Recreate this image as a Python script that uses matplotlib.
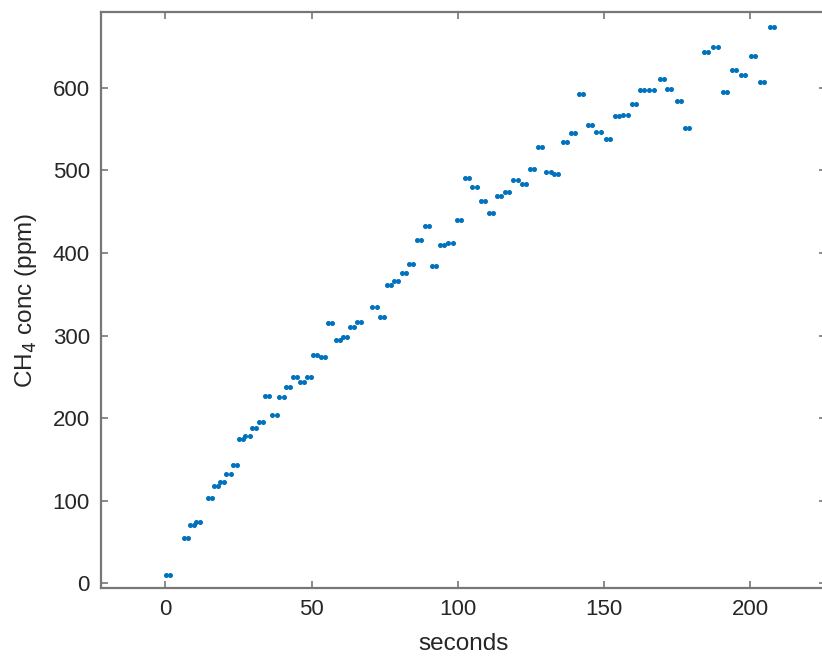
import numpy as np
import matplotlib.pyplot as plt

# Pair centres (seconds) and CH4 values (ppm)
t = [0.9, 7.1, 9.1, 11.2, 15.2, 17.3, 19.4, 21.6, 23.8, 25.9,
     28.1, 30.4, 32.7, 34.9, 37.3, 39.7, 42.0, 44.3, 46.6, 49.1,
     51.3, 53.8, 56.3, 58.9, 61.4, 63.7, 66.2, 71.5, 74.0, 76.5,
     78.9, 81.5, 84.1, 86.7, 89.3, 91.7, 94.6, 97.5, 100.4, 103.2,
     105.7, 108.6, 111.4, 114.2, 116.9, 119.7, 122.5, 125.4, 128.2, 131.0,
     133.7, 136.5, 139.4, 142.2, 145.1, 148.1, 151.2, 154.3, 157.3, 160.1,
     163.1, 166.2, 169.8, 172.2, 175.5, 178.4, 184.9, 188.1, 191.2, 194.3,
     197.6, 200.9, 204.1, 207.4]
ch4 = [10, 55, 71, 75, 103, 118, 123, 132, 143, 175,
       179, 188, 195, 227, 204, 226, 238, 250, 244, 250,
       276, 274, 315, 295, 298, 310, 316, 335, 323, 361,
       366, 376, 387, 416, 433, 384, 410, 412, 440, 491,
       480, 463, 448, 469, 474, 488, 484, 502, 529, 498,
       496, 535, 545, 593, 555, 547, 538, 566, 567, 581,
       597, 597, 611, 599, 584, 551, 644, 650, 595, 622,
       615, 638, 607, 674]

t = np.array(t)
ch4 = np.array(ch4)

# each reading shows up as two samples side by side
x = np.concatenate([t - 0.7, t + 0.7])
y = np.concatenate([ch4, ch4])

plt.rcParams['font.family'] = ['Liberation Sans', 'DejaVu Sans']

fig = plt.figure(figsize=(8.22, 6.57), dpi=100)
ax = fig.add_axes([101 / 822, 1 - 588 / 657, 725.4 / 822, 575.7 / 657])

ax.plot(x, y, linestyle='none', marker='.', markersize=5.2, color='#0072BD')

ax.set_xlim(-22, 226)
ax.set_ylim(-5.5, 691.5)
ax.set_xticks([0, 50, 100, 150, 200])
ax.set_yticks([0, 100, 200, 300, 400, 500, 600])

axis_col = '#777777'
txt_col = '#262626'
for s in ax.spines.values():
    s.set_color(axis_col)
    s.set_linewidth(1.6)
ax.tick_params(direction='in', length=5, width=1.2, color=axis_col,
               labelsize=16, labelcolor=txt_col, pad=8,
               top=True, right=True)

ax.set_xlabel('seconds', fontsize=17.5, color=txt_col, labelpad=9)
ax.set_ylabel('CH$_4$ conc (ppm)', fontsize=17.5, color=txt_col, labelpad=10)

fig.savefig('out.png', dpi=100)
